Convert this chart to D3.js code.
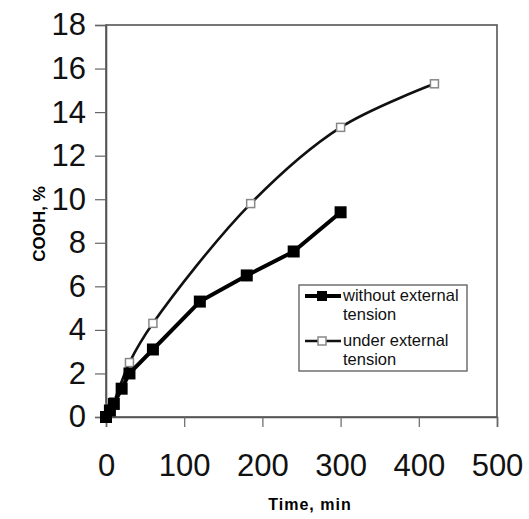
<!DOCTYPE html>
<html>
<head>
<meta charset="utf-8">
<script src="https://cdn.jsdelivr.net/npm/d3@7"></script>
<style>
  body { margin: 0; background: #fff; }
  text { font-family: "Liberation Sans", Arial, sans-serif; }
</style>
</head>
<body>
<svg id="chart" width="529" height="519"></svg>
<script>
"use strict";

// values
const timeWithout = [0, 5, 10, 20, 30, 60, 120, 180, 240, 300];
const coohWithout = [0, 0.3, 0.6, 1.3, 2.0, 3.1, 5.3, 6.5, 7.6, 9.4];
const timeUnder = [0, 5, 10, 30, 60, 185, 300, 420];
const coohUnder = [0, 0.4, 0.7, 2.5, 4.3, 9.8, 13.3, 15.3];
const xTicks = [0, 100, 200, 300, 400, 500];
const yTicks = [0, 2, 4, 6, 8, 10, 12, 14, 16, 18];
const seriesNames = ["without external tension", "under external tension"];

const svg = d3.select("#chart");
// plot area edges (window.top is taken, so no plain "top")
const plotLeft = 106, plotRight = 497, plotTop = 25, plotBottom = 417;

const x = d3.scaleLinear().domain([0, 500]).range([plotLeft, plotRight]);
const y = d3.scaleLinear().domain([0, 18]).range([plotBottom, plotTop]);

// frame of the plot area
svg.append("rect")
  .attr("x", plotLeft).attr("y", plotTop)
  .attr("width", plotRight - plotLeft).attr("height", plotBottom - plotTop)
  .attr("fill", "none").attr("stroke", "#555").attr("stroke-width", 1.6);

// axes
const xAxis = svg.append("g")
  .attr("transform", `translate(0,${plotBottom})`)
  .call(d3.axisBottom(x).tickValues(xTicks).tickSize(10).tickPadding(49));
const yAxis = svg.append("g")
  .attr("transform", `translate(${plotLeft},0)`)
  .call(d3.axisLeft(y).tickValues(yTicks).tickSize(11).tickPadding(9));

[xAxis, yAxis].forEach(function (g) {
  g.select(".domain").attr("stroke", "#555").attr("stroke-width", 1.6);
  g.selectAll(".tick line").attr("stroke", "#666").attr("stroke-width", 1.2);
  g.selectAll(".tick text")
    .attr("fill", "#111")
    .style("font-size", "31px")
    .style("font-family", "'Liberation Sans', Arial, sans-serif");
});
xAxis.selectAll(".tick text").attr("dy", "0");

// axis titles
svg.append("text")
  .attr("x", 310).attr("y", 510)
  .attr("text-anchor", "middle")
  .style("font-size", "16px").style("font-weight", "bold")
  .style("letter-spacing", "1px")
  .text("Time, min");

svg.append("text")
  .attr("transform", "translate(45,224) rotate(-90)")
  .attr("text-anchor", "middle")
  .style("font-size", "17px").style("font-weight", "bold")
  .text("COOH, %");

// series
const without = timeWithout.map((t, i) => [t, coohWithout[i]]);
const under = timeUnder.map((t, i) => [t, coohUnder[i]]);

const straight = d3.line().x(d => x(d[0])).y(d => y(d[1]));
const smooth = d3.line().x(d => x(d[0])).y(d => y(d[1])).curve(d3.curveCatmullRom.alpha(0.5));

svg.append("path")
  .datum(under)
  .attr("d", smooth)
  .attr("fill", "none").attr("stroke", "#111").attr("stroke-width", 2.6);

svg.append("g").selectAll("rect")
  .data(under)
  .join("rect")
  .attr("x", d => x(d[0]) - 4).attr("y", d => y(d[1]) - 4)
  .attr("width", 8).attr("height", 8)
  .attr("fill", "#fff").attr("stroke", "#888").attr("stroke-width", 1.5);

svg.append("path")
  .datum(without)
  .attr("d", straight)
  .attr("fill", "none").attr("stroke", "#000").attr("stroke-width", 4)
  .attr("stroke-linejoin", "round");

svg.append("g").selectAll("rect")
  .data(without)
  .join("rect")
  .attr("x", d => x(d[0]) - 6).attr("y", d => y(d[1]) - 6)
  .attr("width", 12).attr("height", 12)
  .attr("fill", "#000");

// legend
const legend = svg.append("g").attr("transform", "translate(299,285)");
legend.append("rect")
  .attr("width", 168).attr("height", 86)
  .attr("fill", "#fff").attr("stroke", "#666").attr("stroke-width", 1.4);

const legendLines = [["without external", "tension"], ["under external", "tension"]];

// without tension sample
legend.append("line")
  .attr("x1", 6).attr("x2", 42).attr("y1", 11).attr("y2", 11)
  .attr("stroke", "#000").attr("stroke-width", 4);
legend.append("rect")
  .attr("x", 18).attr("y", 6).attr("width", 10).attr("height", 10).attr("fill", "#000");

// under tension sample
legend.append("line")
  .attr("x1", 6).attr("x2", 42).attr("y1", 56).attr("y2", 56)
  .attr("stroke", "#111").attr("stroke-width", 2.6);
legend.append("rect")
  .attr("x", 19).attr("y", 52).attr("width", 8).attr("height", 8)
  .attr("fill", "#fff").attr("stroke", "#888").attr("stroke-width", 1.5);

legendLines.forEach(function (lines, i) {
  const t = legend.append("text")
    .attr("x", 44).attr("y", 16 + i * 45)
    .attr("fill", "#111")
    .style("font-size", "16.5px")
    .attr("aria-label", seriesNames[i]);
  lines.forEach(function (s, j) {
    t.append("tspan").attr("x", 44).attr("dy", j === 0 ? 0 : 19).text(s);
  });
});
</script>
</body>
</html>
